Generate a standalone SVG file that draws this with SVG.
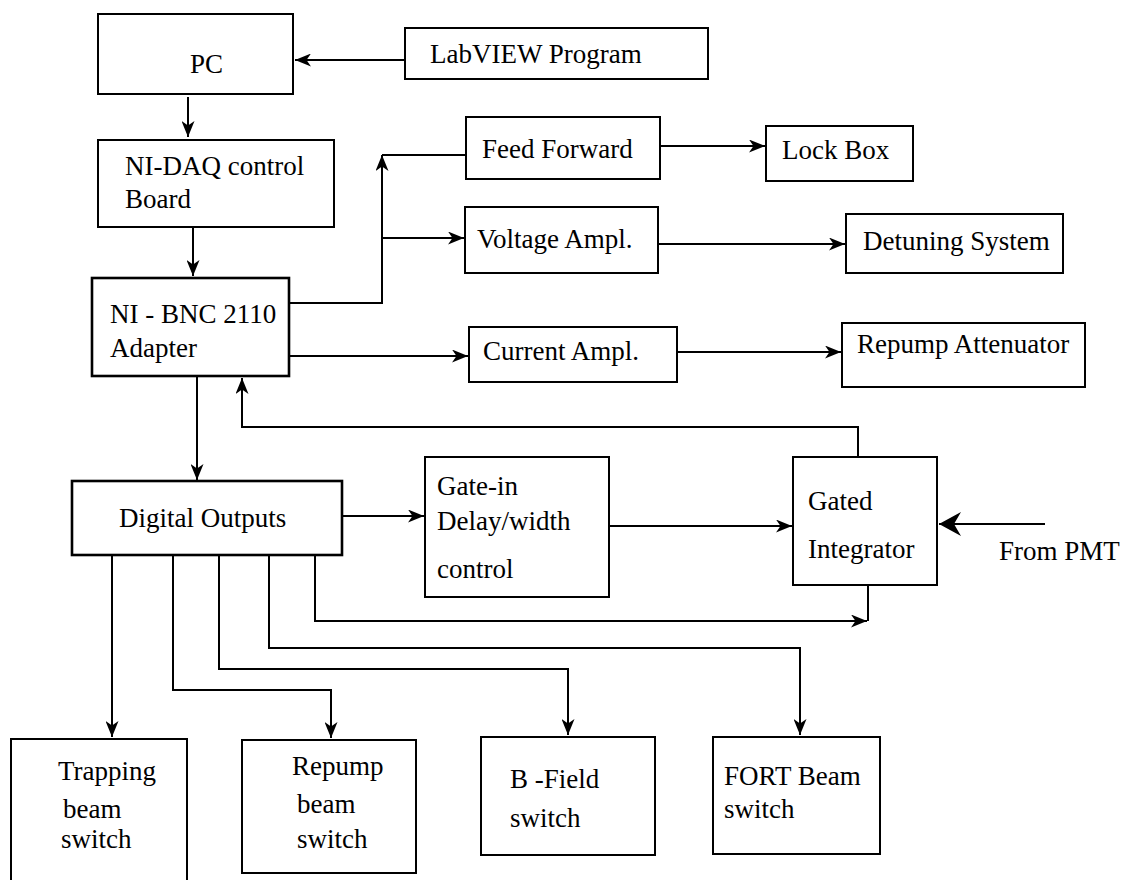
<svg xmlns="http://www.w3.org/2000/svg" width="1127" height="880" viewBox="0 0 1127 880">
<style>
.box{fill:#fff;stroke:#000;stroke-width:2}
.thick{stroke-width:2.6}
.t{font-family:'Liberation Serif','Times New Roman','DejaVu Serif',serif;font-size:27px;fill:#000}
.c{fill:none;stroke:#000;stroke-width:2}
</style>
<defs>
<marker id="ah" viewBox="0 0 16 13" refX="16" refY="6.5" markerWidth="16" markerHeight="13" markerUnits="userSpaceOnUse" orient="auto">
<path d="M0,0 L16,6.5 L0,13 L4.5,6.5 z" fill="#000"/>
</marker>
<marker id="ahBig" viewBox="0 0 22 24" refX="22" refY="12" markerWidth="22" markerHeight="24" markerUnits="userSpaceOnUse" orient="auto">
<path d="M0,0 L22,12 L0,24 L7,12 z" fill="#000"/>
</marker>
</defs>
<rect width="1127" height="880" fill="#fff"/>
<g id="connectors">
<path class="c" d="M405,60 H295" marker-end="url(#ah)"/>
<path class="c" d="M188,97 V137" marker-end="url(#ah)"/>
<path class="c" d="M193,227 V276" marker-end="url(#ah)"/>
<path class="c" d="M289,303 H382 V155" marker-end="url(#ah)"/>
<path class="c" d="M382,155 H466"/>
<path class="c" d="M382,238 H464" marker-end="url(#ah)"/>
<path class="c" d="M660,146 H765" marker-end="url(#ah)"/>
<path class="c" d="M658,244 H845" marker-end="url(#ah)"/>
<path class="c" d="M289,356 H468" marker-end="url(#ah)"/>
<path class="c" d="M677,352 H841" marker-end="url(#ah)"/>
<path class="c" d="M197,376 V480" marker-end="url(#ah)"/>
<path class="c" d="M858,457 V427 H242 V378" marker-end="url(#ah)"/>
<path class="c" d="M342,516 H424" marker-end="url(#ah)"/>
<path class="c" d="M609,526 H792" marker-end="url(#ah)"/>
<path class="c" d="M1045,524 H939" marker-end="url(#ahBig)"/>
<path class="c" d="M315,555 V621 H867" marker-end="url(#ah)"/>
<path class="c" d="M868,585 V621"/>
<path class="c" d="M269,555 V648 H800 V735" marker-end="url(#ah)"/>
<path class="c" d="M219,555 V669 H568 V735" marker-end="url(#ah)"/>
<path class="c" d="M173,555 V690 H331 V738" marker-end="url(#ah)"/>
<path class="c" d="M112,555 V737" marker-end="url(#ah)"/>
</g>
<g id="pc"><rect class="box" x="98" y="14" width="195" height="80"/><text class="t" x="190" y="73">PC</text></g>
<g id="labview"><rect class="box" x="405" y="28" width="303" height="51"/><text class="t" x="430" y="63">LabVIEW Program</text></g>
<g id="nidaq"><rect class="box" x="98" y="140" width="236" height="87"/><text class="t" x="125" y="175">NI-DAQ control</text><text class="t" x="125" y="208">Board</text></g>
<g id="adapter"><rect class="box thick" x="92" y="278" width="197" height="98"/><text class="t" x="110" y="323">NI - BNC 2110</text><text class="t" x="110" y="357">Adapter</text></g>
<g id="feedforward"><rect class="box" x="466" y="117" width="194" height="62"/><text class="t" x="482" y="158">Feed Forward</text></g>
<g id="lockbox"><rect class="box" x="766" y="126" width="147" height="55"/><text class="t" x="782" y="159">Lock Box</text></g>
<g id="voltage"><rect class="box" x="465" y="207" width="193" height="66"/><text class="t" x="477" y="248">Voltage Ampl.</text></g>
<g id="detuning"><rect class="box" x="846" y="214" width="217" height="59"/><text class="t" x="863" y="250">Detuning System</text></g>
<g id="current"><rect class="box" x="469" y="327" width="208" height="55"/><text class="t" x="483" y="360">Current Ampl.</text></g>
<g id="repumpatt"><rect class="box" x="842" y="323" width="243" height="64"/><text class="t" x="857" y="353">Repump Attenuator</text></g>
<g id="digital"><rect class="box thick" x="72" y="481" width="270" height="74"/><text class="t" x="119" y="527">Digital Outputs</text></g>
<g id="gatein"><rect class="box" x="425" y="457" width="184" height="140"/><text class="t" x="437" y="495">Gate-in</text><text class="t" x="437" y="530">Delay/width</text><text class="t" x="437" y="578">control</text></g>
<g id="gated"><rect class="box" x="793" y="457" width="144" height="128"/><text class="t" x="808" y="510">Gated</text><text class="t" x="808" y="558">Integrator</text></g>
<g id="pmt"><text class="t" x="999" y="560">From PMT</text></g>
<g id="trapping"><rect class="box" x="11" y="739" width="176" height="160"/><text class="t" x="58" y="780">Trapping</text><text class="t" x="63" y="818">beam</text><text class="t" x="61" y="848">switch</text></g>
<g id="repumpbeam"><rect class="box" x="242" y="740" width="174" height="133"/><text class="t" x="292" y="775">Repump</text><text class="t" x="297" y="813">beam</text><text class="t" x="297" y="848">switch</text></g>
<g id="bfield"><rect class="box" x="481" y="737" width="174" height="118"/><text class="t" x="510" y="788">B -Field</text><text class="t" x="510" y="827">switch</text></g>
<g id="fort"><rect class="box" x="713" y="737" width="167" height="117"/><text class="t" x="724" y="785">FORT Beam</text><text class="t" x="724" y="818">switch</text></g>
</svg>
